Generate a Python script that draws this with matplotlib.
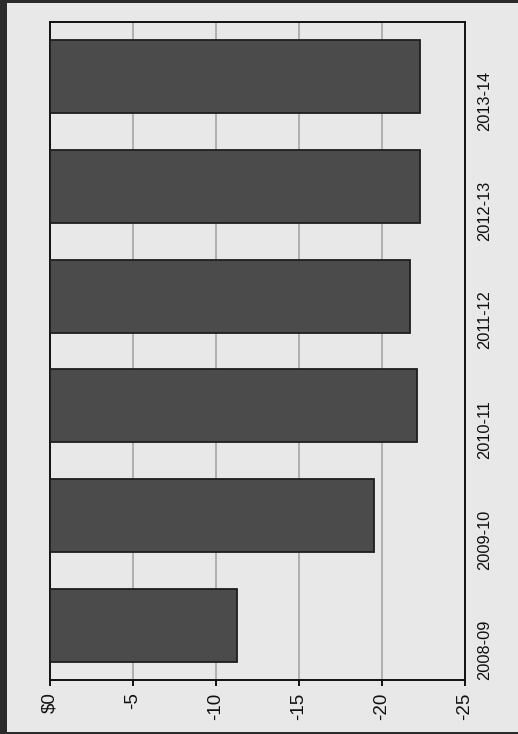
import matplotlib.pyplot as plt
from matplotlib.patches import Rectangle

years = ["2008-09", "2009-10", "2010-11", "2011-12", "2012-13", "2013-14"]
values = [-11.3, -19.5, -22.1, -21.7, -22.3, -22.3]
ticks = [0, -5, -10, -15, -20, -25]
tick_labels = ["$0", "-5", "-10", "-15", "-20", "-25"]

plt.rcParams['font.family'] = ['Liberation Sans', 'DejaVu Sans']

W, H = 518, 734
fig = plt.figure(figsize=(W / 100, H / 100), dpi=100, facecolor="#2b2b2b")
# light page inside the dark frame
fig.patches.append(Rectangle((7 / W, 2 / H), 1 - 7 / W, 1 - 5 / H,
                             transform=fig.transFigure, facecolor="#e8e8e8",
                             edgecolor="none", zorder=-5))

ax = fig.add_axes([49.5 / W, 1 - 680 / H, (465 - 49.5) / W, (680 - 22) / H])
ax.set_facecolor("#e8e8e8")

pos = list(range(len(years)))
ax.barh(pos, values, height=0.665, color="#4b4b4b", edgecolor="#1e1e1e",
        linewidth=1.3, zorder=3)

ax.set_xlim(0, -25)
ax.set_ylim(-0.5, len(years) - 0.5)
ax.set_xticks(ticks)
ax.set_xticklabels(tick_labels, rotation=90, fontsize=13.5, color="#111111")
ax.tick_params(axis="x", direction="out", length=4, width=1.3, pad=5)
ax.grid(axis="x", color="#a0a0a0", linewidth=1.1, zorder=0)

ax.yaxis.tick_right()
ax.set_yticks(pos)
ax.set_yticklabels(years, rotation=90, fontsize=11.8, color="#111111")
ax.tick_params(axis="y", length=0, pad=8.5)

for s in ax.spines.values():
    s.set_linewidth(1.4)
    s.set_color("#111111")

fig.savefig("out.png", dpi=100, facecolor=fig.get_facecolor())
